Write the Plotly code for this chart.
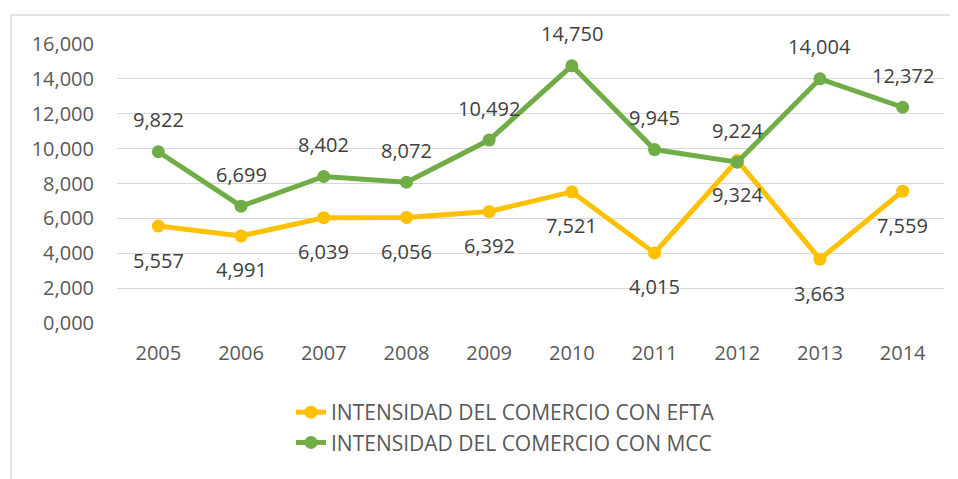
import plotly.graph_objects as go

years = ["2005", "2006", "2007", "2008", "2009", "2010", "2011", "2012", "2013", "2014"]
efta = [5.557, 4.991, 6.039, 6.056, 6.392, 7.521, 4.015, 9.324, 3.663, 7.559]
mcc = [9.822, 6.699, 8.402, 8.072, 10.492, 14.750, 9.945, 9.224, 14.004, 12.372]
y_ticks = [0, 2, 4, 6, 8, 10, 12, 14, 16]

EFTA_COLOR = "#FFC000"
MCC_COLOR = "#70AD47"
FONT = "Open Sans"

# page body has an 8px margin; target pixel positions are shifted accordingly
OFF = 8
W, H = 958 - OFF, 479 - OFF
PL, PR, PT, PB = 117 - OFF, 944 - OFF, 44 - OFF, 323 - OFF
PW, PH = PR - PL, PB - PT

fig = go.Figure()
fig.add_trace(go.Scatter(
    x=years, y=efta, mode="lines+markers",
    name="INTENSIDAD DEL COMERCIO CON EFTA",
    line=dict(color=EFTA_COLOR, width=5),
    marker=dict(color=EFTA_COLOR, size=13),
))
fig.add_trace(go.Scatter(
    x=years, y=mcc, mode="lines+markers",
    name="INTENSIDAD DEL COMERCIO CON MCC",
    line=dict(color=MCC_COLOR, width=5),
    marker=dict(color=MCC_COLOR, size=13),
))

annotations = []
for i, yv in enumerate(efta):
    annotations.append(dict(x=i, y=yv, xref="x", yref="y", text=f"{yv:.3f}".replace(".", ","),
                            showarrow=False, yshift=-34,
                            font=dict(family=FONT, size=20, color="#404040")))
for i, yv in enumerate(mcc):
    annotations.append(dict(x=i, y=yv, xref="x", yref="y", text=f"{yv:.3f}".replace(".", ","),
                            showarrow=False, yshift=32,
                            font=dict(family=FONT, size=20, color="#404040")))

fig.update_layout(
    width=W, height=H,
    margin=dict(l=PL, r=W - PR, t=PT, b=H - PB, autoexpand=False),
    paper_bgcolor="white", plot_bgcolor="white",
    separators=",.",
    font=dict(family=FONT, size=20, color="#595959"),
    showlegend=True,
    legend=dict(
        x=(291 - OFF - PL) / PW, xanchor="left",
        y=(PB - (392 - OFF)) / PH, yanchor="top",
        font=dict(family=FONT, size=21, color="#595959"),
        bgcolor="rgba(0,0,0,0)", itemwidth=30,
    ),
    annotations=annotations,
    shapes=[dict(type="rect", xref="paper", yref="paper",
                 x0=(11 - OFF - PL) / PW, x1=1.2, y0=-0.8, y1=(PB - (15 - OFF)) / PH,
                 line=dict(color="#D9D9D9", width=1.5), layer="below")],
)
fig.update_xaxes(type="category", range=[-0.5, 9.5], showgrid=False, showline=False, ticks="",
                 tickfont=dict(family=FONT, size=20, color="#595959"),
                 ticklabelstandoff=16)
fig.update_yaxes(range=[0, 16], tickvals=y_ticks, tickformat=".3f",
                 showgrid=True, gridcolor="#D9D9D9", gridwidth=1.3,
                 zeroline=False, showline=False, ticks="",
                 tickfont=dict(family=FONT, size=20, color="#595959"),
                 ticklabelstandoff=22)

fig.write_html("out.html")
